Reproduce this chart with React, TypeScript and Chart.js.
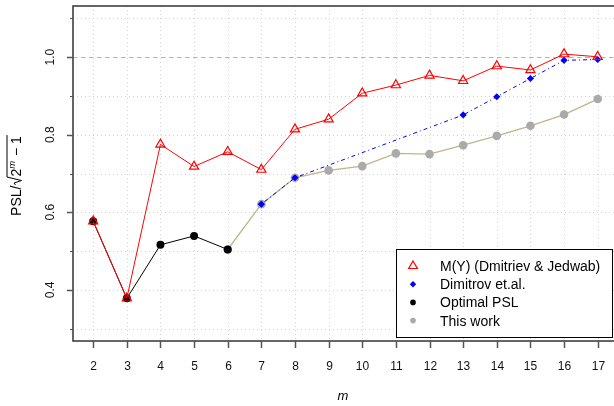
import React, { useEffect, useRef } from 'react';
import { Chart, registerables } from 'chart.js';

Chart.register(...registerables);

// ---- data ----
const M_VALUES = [2, 3, 4, 5, 6, 7, 8, 9, 10, 11, 12, 13, 14, 15, 16, 17];
const MY_VALUES = [0.577, 0.378, 0.775, 0.718, 0.756, 0.71, 0.814, 0.84, 0.907, 0.928, 0.953, 0.939, 0.977, 0.967, 1.008, 1.001];
const DIMITROV_VALUES = [null, null, null, null, null, 0.621, 0.689, null, null, null, null, 0.851, 0.898, 0.945, 0.992, 0.994];
const OPTIMAL_VALUES = [0.577, 0.378, 0.516, 0.539, 0.504, null, null, null, null, null, null, null, null, null, null, null];
const THIS_WORK_VALUES = [null, null, null, null, 0.504, 0.621, 0.689, 0.708, 0.719, 0.752, 0.75, 0.773, 0.797, 0.823, 0.852, 0.892];

const X_TICKS = M_VALUES;
const Y_MAJOR_TICKS = [0.4, 0.6, 0.8, 1.0];
const Y_TICK_LABELS = ['0.4', '0.6', '0.8', '1.0'];
const Y_MINOR_TICKS = [0.3, 0.5, 0.7, 0.9, 1.1];
const REFERENCE_LINE = 1.0;
const LEGEND_LABELS = ['M(Y) (Dmitriev & Jedwab)', 'Dimitrov et.al.', 'Optimal PSL', 'This work'];
const X_TITLE = 'm';

const FONT = '"Liberation Sans", Arial, Helvetica, sans-serif';
const RED = '#ff0000';
const BLUE = '#0000ff';
const BLACK = '#000000';
const GREY = '#aaaaaa';
const TAN = '#c0b48a';

const toPoints = (vals: (number | null)[]) => M_VALUES.map((m, i) => ({ x: m, y: vals[i] }));

function line(ctx: CanvasRenderingContext2D, x1: number, y1: number, x2: number, y2: number) {
  ctx.beginPath();
  ctx.moveTo(x1, y1);
  ctx.lineTo(x2, y2);
  ctx.stroke();
}

function drawTriangle(ctx: CanvasRenderingContext2D, x: number, y: number, r: number) {
  ctx.beginPath();
  for (let k = 0; k < 3; k++) {
    const ang = (k * 2 * Math.PI) / 3;
    const px = x + Math.sin(ang) * r;
    const py = y - Math.cos(ang) * r;
    if (k === 0) ctx.moveTo(px, py);
    else ctx.lineTo(px, py);
  }
  ctx.closePath();
}

function drawYTitle(ctx: CanvasRenderingContext2D, baseX: number, centerY: number) {
  const big = `14px ${FONT}`;
  const small = `italic 9.5px ${FONT}`;
  ctx.save();
  ctx.translate(baseX, centerY);
  ctx.rotate(-Math.PI / 2);
  ctx.fillStyle = '#000';
  ctx.strokeStyle = '#000';
  ctx.lineWidth = 1;
  ctx.textBaseline = 'alphabetic';
  ctx.textAlign = 'left';
  ctx.font = big;
  const wPSL = ctx.measureText('PSL/').width;
  const w2 = ctx.measureText('2').width;
  const wMinus = ctx.measureText(' \u2212 ').width;
  const w1 = ctx.measureText('1').width;
  ctx.font = small;
  const wm = ctx.measureText('m').width;
  const radW = 9;
  const contentW = w2 + wm + 1 + wMinus + w1;
  const total = wPSL + radW + contentW + 1;
  let x = -total / 2;
  ctx.font = big;
  ctx.fillText('PSL/', x, 0);
  x += wPSL;
  // radical sign
  ctx.beginPath();
  ctx.moveTo(x + 0.5, -5);
  ctx.lineTo(x + 2.5, -6.5);
  ctx.lineTo(x + 5, 1);
  ctx.lineTo(x + 8.5, -13.5);
  ctx.lineTo(x + radW + contentW + 1, -13.5);
  ctx.stroke();
  x += radW;
  ctx.fillText('2', x, 0);
  x += w2;
  ctx.font = small;
  ctx.fillText('m', x, -6);
  x += wm + 1;
  ctx.font = big;
  ctx.fillText(' \u2212 ', x, 0);
  x += wMinus;
  ctx.fillText('1', x, 0);
  ctx.restore();
}

const decorPlugin = {
  id: 'decor',
  beforeDatasetsDraw(chart: any) {
    const { ctx, chartArea: a, scales } = chart;
    const xs = scales.x;
    const ys = scales.y;
    ctx.save();
    ctx.strokeStyle = '#d3d3d3';
    ctx.lineWidth = 1;
    ctx.setLineDash([1, 3]);
    for (const v of X_TICKS) {
      const px = Math.round(xs.getPixelForValue(v)) + 0.5;
      line(ctx, px, a.top, px, a.bottom);
    }
    for (const v of [...Y_MAJOR_TICKS, ...Y_MINOR_TICKS]) {
      const py = Math.round(ys.getPixelForValue(v)) + 0.5;
      line(ctx, a.left, py, a.right, py);
    }
    ctx.setLineDash([4, 4]);
    ctx.strokeStyle = '#b4b4b4';
    const ry = Math.round(ys.getPixelForValue(REFERENCE_LINE)) + 0.5;
    line(ctx, a.left, ry, a.right, ry);
    ctx.restore();
  },
  afterDatasetsDraw(chart: any) {
    const { ctx, chartArea: a, scales } = chart;
    const xs = scales.x;
    const ys = scales.y;
    ctx.save();
    ctx.setLineDash([]);
    // box
    ctx.strokeStyle = '#333';
    ctx.lineWidth = 1.5;
    ctx.strokeRect(a.left, a.top, a.right + 10 - a.left, a.bottom - a.top);

    // x ticks + labels
    ctx.strokeStyle = '#555';
    ctx.lineWidth = 1.5;
    ctx.fillStyle = '#111';
    ctx.font = `12px ${FONT}`;
    ctx.textAlign = 'center';
    ctx.textBaseline = 'alphabetic';
    for (const v of X_TICKS) {
      const px = Math.round(xs.getPixelForValue(v)) + 0.5;
      line(ctx, px, a.bottom, px, a.bottom + 7);
      ctx.fillText(String(v), px, a.bottom + 29);
    }

    // y ticks
    for (const v of Y_MAJOR_TICKS) {
      const py = Math.round(ys.getPixelForValue(v)) + 0.5;
      line(ctx, a.left, py, a.left - 6, py);
    }
    ctx.lineWidth = 1;
    for (const v of Y_MINOR_TICKS) {
      const py = Math.round(ys.getPixelForValue(v)) + 0.5;
      line(ctx, a.left, py, a.left - 3, py);
    }
    Y_MAJOR_TICKS.forEach((v, i) => {
      const py = ys.getPixelForValue(v);
      ctx.save();
      ctx.translate(a.left - 19.5, py);
      ctx.rotate(-Math.PI / 2);
      ctx.textAlign = 'center';
      ctx.fillText(Y_TICK_LABELS[i], 0, 0);
      ctx.restore();
    });

    // x title
    ctx.font = `italic 13px ${FONT}`;
    ctx.fillStyle = '#000';
    ctx.textAlign = 'center';
    ctx.fillText(X_TITLE, 343, a.bottom + 59);

    // y title
    drawYTitle(ctx, 20.5, (a.top + a.bottom) / 2 + 2);

    // legend
    const lx = a.right - 218;
    const ly = a.bottom - 92;
    const lw = 216;
    const lh = 88;
    ctx.fillStyle = '#fff';
    ctx.fillRect(lx, ly, lw, lh);
    ctx.strokeStyle = '#000';
    ctx.lineWidth = 1;
    ctx.strokeRect(lx + 0.5, ly + 0.5, lw, lh);
    const symX = lx + 17;
    const textX = lx + 44;
    ctx.font = `14px ${FONT}`;
    ctx.textAlign = 'left';
    LEGEND_LABELS.forEach((label, i) => {
      const cy = ly + 17 + i * 18.2;
      if (i === 0) {
        ctx.strokeStyle = RED;
        ctx.lineWidth = 1.2;
        drawTriangle(ctx, symX, cy, 5);
        ctx.stroke();
      } else if (i === 1) {
        ctx.fillStyle = BLUE;
        const r = 3.2;
        ctx.beginPath();
        ctx.moveTo(symX, cy - r);
        ctx.lineTo(symX + r, cy);
        ctx.lineTo(symX, cy + r);
        ctx.lineTo(symX - r, cy);
        ctx.closePath();
        ctx.fill();
      } else {
        ctx.fillStyle = i === 2 ? BLACK : GREY;
        ctx.beginPath();
        ctx.arc(symX, cy, 2.8, 0, Math.PI * 2);
        ctx.fill();
      }
      ctx.fillStyle = '#000';
      ctx.fillText(label, textX, cy + 5);
    });
    ctx.restore();
  },
};

export default function App() {
  const canvasRef = useRef<HTMLCanvasElement | null>(null);

  useEffect(() => {
    document.body.style.margin = '0';
    const canvas = canvasRef.current;
    if (!canvas) return;
    const chart = new Chart(canvas, {
      type: 'line',
      data: {
        datasets: [
          {
            label: LEGEND_LABELS[0],
            data: toPoints(MY_VALUES),
            borderColor: RED,
            borderWidth: 1,
            pointStyle: 'triangle',
            pointRadius: 5.3,
            pointBorderColor: RED,
            pointBackgroundColor: 'rgba(0,0,0,0)',
            pointBorderWidth: 1.2,
            tension: 0,
          },
          {
            label: LEGEND_LABELS[1],
            data: toPoints(DIMITROV_VALUES),
            borderColor: BLUE,
            borderWidth: 1,
            borderDash: [1, 3, 4, 3],
            spanGaps: true,
            pointStyle: 'rectRot',
            pointRadius: 3.6,
            pointBorderWidth: 0,
            pointBackgroundColor: BLUE,
            pointBorderColor: BLUE,
            tension: 0,
          },
          {
            label: LEGEND_LABELS[2],
            data: toPoints(OPTIMAL_VALUES),
            borderColor: BLACK,
            borderWidth: 1,
            pointStyle: 'circle',
            pointRadius: 4,
            pointBorderWidth: 0,
            pointBackgroundColor: BLACK,
            pointBorderColor: BLACK,
            tension: 0,
          },
          {
            label: LEGEND_LABELS[3],
            data: toPoints(THIS_WORK_VALUES),
            borderColor: TAN,
            borderWidth: 1.3,
            pointStyle: 'circle',
            pointRadius: 4.3,
            pointBorderWidth: 0,
            pointBackgroundColor: GREY,
            pointBorderColor: GREY,
            tension: 0,
          },
        ],
      },
      options: {
        animation: false,
        responsive: false,
        maintainAspectRatio: false,
        layout: { autoPadding: false, padding: { left: 73, top: 6, right: 0, bottom: 65 } },
        scales: {
          x: { type: 'linear', min: 1.4, max: 17.485, display: false },
          y: { type: 'linear', min: 0.268, max: 1.132, display: false },
        },
        plugins: {
          legend: { display: false },
          tooltip: { enabled: false },
        },
      },
      plugins: [decorPlugin],
    } as any);
    return () => chart.destroy();
  }, []);

  return <canvas ref={canvasRef} width={614} height={406} style={{ display: 'block' }} />;
}
